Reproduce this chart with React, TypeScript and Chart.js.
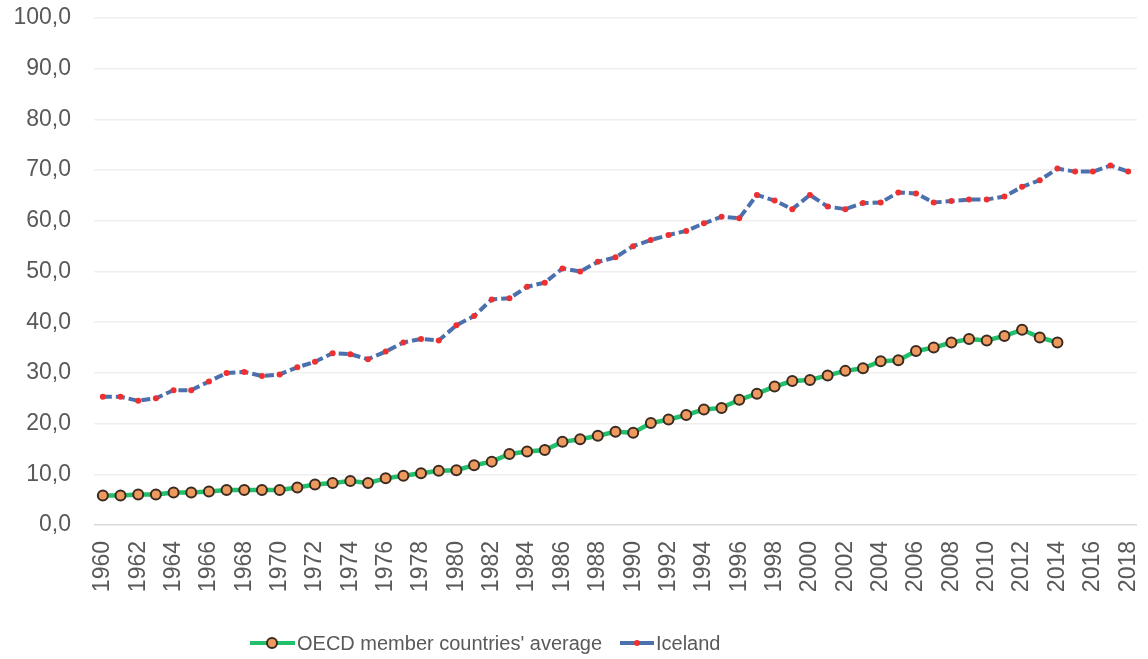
import React, { useEffect, useRef } from "react";
import { Chart, registerables } from "chart.js";

Chart.register(...registerables);

const years: string[] = [];
for (let y = 1960; y <= 2018; y++) years.push(String(y));

const oecdAverage: (number | null)[] = [
  5.8, 5.8, 6.0, 6.0, 6.4, 6.4, 6.6, 6.9, 6.9, 6.9,
  6.9, 7.4, 8.0, 8.3, 8.7, 8.3, 9.2, 9.7, 10.2, 10.7,
  10.8, 11.8, 12.5, 14.0, 14.5, 14.8, 16.4, 16.9, 17.6, 18.4,
  18.2, 20.1, 20.8, 21.7, 22.8, 23.1, 24.7, 25.9, 27.3, 28.4,
  28.6, 29.5, 30.4, 30.9, 32.3, 32.5, 34.3, 35.0, 36.0, 36.7,
  36.4, 37.3, 38.5, 37.0, 36.0, null, null, null, null,
];

const iceland: number[] = [
  25.3, 25.3, 24.5, 25.0, 26.6, 26.6, 28.3, 30.0, 30.2, 29.4,
  29.7, 31.1, 32.2, 33.9, 33.7, 32.7, 34.2, 36.0, 36.7, 36.4,
  39.4, 41.2, 44.5, 44.7, 47.0, 47.8, 50.6, 50.0, 51.9, 52.8,
  55.0, 56.2, 57.2, 58.0, 59.5, 60.8, 60.5, 65.1, 64.0, 62.3,
  65.1, 62.8, 62.3, 63.5, 63.6, 65.6, 65.4, 63.6, 63.9, 64.2,
  64.2, 64.8, 66.7, 68.0, 70.3, 69.7, 69.7, 70.9, 69.7,
];

const seriesNames = ["OECD member countries' average", "Iceland"];

const FONT = "'Liberation Sans', Arial, sans-serif";
const TEXT = "#595959";

const legendPlugin = {
  id: "customLegend",
  afterDraw(chart: any) {
    const ctx = chart.ctx as CanvasRenderingContext2D;
    const y = 643;
    ctx.save();
    ctx.font = `20px ${FONT}`;
    ctx.textBaseline = "middle";
    ctx.fillStyle = TEXT;
    let x = 250;
    ctx.strokeStyle = "#22c06a";
    ctx.lineWidth = 4;
    ctx.setLineDash([]);
    ctx.beginPath();
    ctx.moveTo(x, y);
    ctx.lineTo(x + 45, y);
    ctx.stroke();
    ctx.beginPath();
    ctx.arc(x + 22, y, 5, 0, Math.PI * 2);
    ctx.fillStyle = "#ee9a5e";
    ctx.fill();
    ctx.lineWidth = 2;
    ctx.strokeStyle = "#3a2a20";
    ctx.stroke();
    ctx.fillStyle = TEXT;
    ctx.fillText(seriesNames[0], x + 47, y + 1);
    x = 620;
    ctx.strokeStyle = "#4a70ad";
    ctx.lineWidth = 4;
    ctx.beginPath();
    ctx.moveTo(x, y);
    ctx.lineTo(x + 34, y);
    ctx.stroke();
    ctx.beginPath();
    ctx.arc(x + 17, y, 3, 0, Math.PI * 2);
    ctx.fillStyle = "#ee3030";
    ctx.fill();
    ctx.fillStyle = TEXT;
    ctx.fillText(seriesNames[1], x + 36, y + 1);
    ctx.restore();
  },
};

export default function App() {
  const ref = useRef<HTMLCanvasElement | null>(null);
  useEffect(() => {
    if (!ref.current) return;
    const chart = new Chart(ref.current, {
      type: "line",
      data: {
        labels: years,
        datasets: [
          {
            label: seriesNames[1],
            data: iceland,
            borderColor: "#4a70ad",
            borderWidth: 4,
            borderDash: [9, 4],
            pointRadius: 3,
            pointBackgroundColor: "#ee3030",
            pointBorderWidth: 0,
            pointBorderColor: "#ee3030",
            tension: 0,
            order: 2,
          },
          {
            label: seriesNames[0],
            data: oecdAverage,
            borderColor: "#22c06a",
            borderWidth: 4.5,
            pointRadius: 5,
            pointBackgroundColor: "#ee9a5e",
            pointBorderColor: "#3a2a20",
            pointBorderWidth: 2,
            tension: 0,
            spanGaps: false,
            order: 1,
          },
        ],
      },
      options: {
        animation: false,
        responsive: false,
        maintainAspectRatio: false,
        layout: { padding: { top: 18, right: 11, left: 0, bottom: 0 } },
        plugins: {
          legend: { display: false },
          tooltip: { enabled: false },
        },
        scales: {
          x: {
            offset: true,
            grid: { display: false },
            border: { display: false },
            afterFit: (s: any) => {
              s.height = 134;
              s.paddingLeft = 0;
              s.paddingRight = 0;
            },
            ticks: {
              autoSkip: false,
              minRotation: 90,
              maxRotation: 90,
              padding: 8,
              color: TEXT,
              font: { family: FONT, size: 23 },
              callback: function (this: any, _v: any, i: number) {
                return i % 2 === 0 ? years[i] : "";
              },
            },
          },
          y: {
            min: 0,
            max: 100,
            border: { display: false },
            afterFit: (s: any) => {
              s.width = 94;
              s.paddingTop = 0;
              s.paddingBottom = 0;
            },
            grid: {
              color: (c: any) => (c.tick && c.tick.value === 0 ? "#d9d9d9" : "#efefef"),
              lineWidth: 1.5,
              drawTicks: false,
            },
            ticks: {
              stepSize: 10,
              padding: 23,
              color: TEXT,
              font: { family: FONT, size: 23 },
              callback: (v: any) => Number(v).toFixed(1).replace(".", ","),
            },
          },
        },
      },
      plugins: [legendPlugin],
    });
    return () => chart.destroy();
  }, []);
  return (
    <div style={{ position: "absolute", left: 0, top: 0, width: 1148, height: 659, background: "#fff" }}>
      <canvas ref={ref} width={1148} height={659} style={{ width: 1148, height: 659 }} />
    </div>
  );
}
